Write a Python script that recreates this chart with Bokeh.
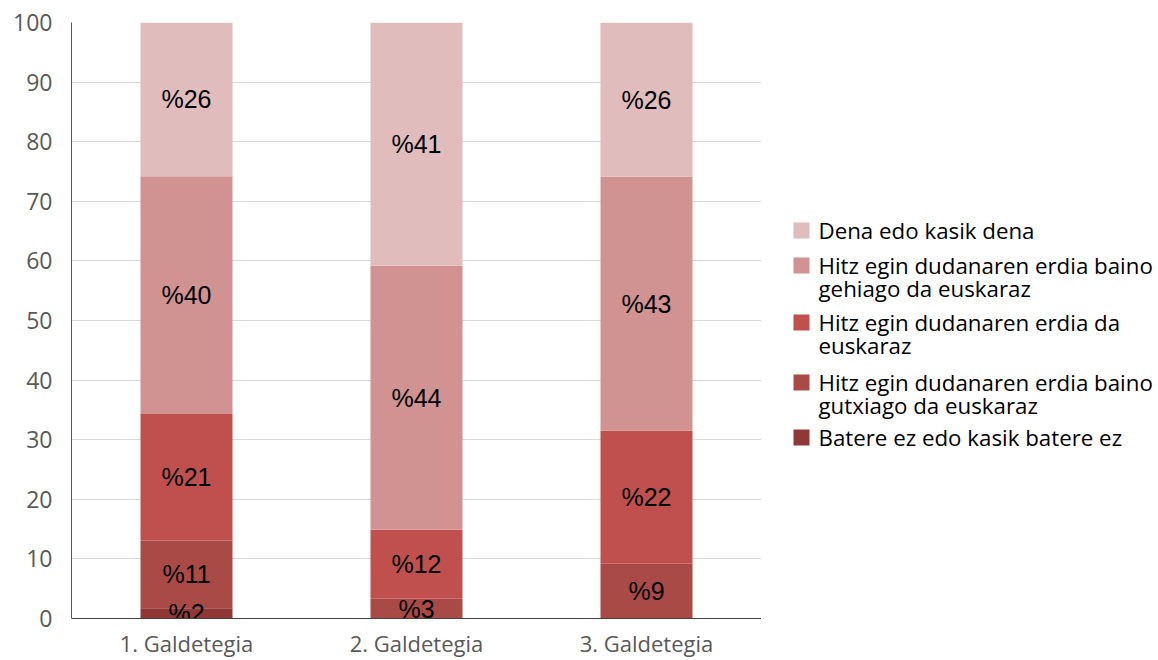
from bokeh.plotting import figure
from bokeh.layouts import row
from bokeh.models import ColumnDataSource, Range1d, FactorRange, FixedTicker
from bokeh.core.properties import value
from bokeh.embed import file_html
from bokeh.resources import INLINE

categories = ["1. Galdetegia", "2. Galdetegia", "3. Galdetegia"]
series_names = [
    "Batere ez edo kasik batere ez",
    "Hitz egin dudanaren erdia baino\ngutxiago da euskaraz",
    "Hitz egin dudanaren erdia da\neuskaraz",
    "Hitz egin dudanaren erdia baino\ngehiago da euskaraz",
    "Dena edo kasik dena",
]
batere = [1.7, 0.0, 0.0]
gutxiago = [11.4, 3.3, 9.2]
erdia = [21.2, 11.6, 22.3]
gehiago = [39.9, 44.3, 42.6]
dena = [25.8, 40.8, 25.9]
colors = ["#8f3835", "#a94a47", "#c0504d", "#d19391", "#e0bcbc"]
y_ticks = [0, 10, 20, 30, 40, 50, 60, 70, 80, 90, 100]

series = [batere, gutxiago, erdia, gehiago, dena]
keys = ["s0", "s1", "s2", "s3", "s4"]
data = {"cat": categories}
for k, s in zip(keys, series):
    data[k] = s
source = ColumnDataSource(data)

H = 660
TOP, BOTTOM = 22, 42
p = figure(x_range=FactorRange(*categories, range_padding=0), y_range=Range1d(0, 100),
           width=761, height=H, output_backend="svg", toolbar_location=None,
           min_border_left=71, min_border_top=TOP, min_border_bottom=BOTTOM, min_border_right=0)
p.outline_line_color = None
p.background_fill_color = "white"

renderers = p.vbar_stack(keys, x="cat", width=0.4, source=source, color=colors, line_color=None)

# data labels
lx, ly, lt = [], [], []
for i, c in enumerate(categories):
    base = 0.0
    for s in series:
        v = s[i]
        if v > 0:
            lx.append(c)
            ly.append(base + v / 2)
            lt.append("%" + str(round(v)))
        base += v
p.text(x=lx, y=ly, text=lt, text_align="center", text_baseline="middle",
       text_font=value("Liberation Sans"), text_font_size="25px", text_color="black")

# axes
p.yaxis.ticker = FixedTicker(ticks=y_ticks)
p.yaxis.major_tick_line_color = None
p.yaxis.major_tick_out = 0
p.yaxis.major_tick_in = 0
p.yaxis.minor_tick_line_color = None
p.yaxis.axis_line_color = "#595959"
p.yaxis.major_label_text_font = "Open Sans"
p.yaxis.major_label_text_font_size = "23px"
p.yaxis.major_label_text_color = "#595959"
p.yaxis.major_label_standoff = 19
p.xaxis.major_tick_line_color = None
p.xaxis.major_tick_out = 0
p.xaxis.major_tick_in = 0
p.xaxis.axis_line_color = "#404040"
p.xaxis.major_label_text_font = "Open Sans"
p.xaxis.major_label_text_font_size = "22px"
p.xaxis.major_label_text_color = "#595959"
p.xaxis.major_label_standoff = 9
p.xgrid.grid_line_color = None
p.ygrid.grid_line_color = "#d9d9d9"

# legend panel, drawn in page-pixel coordinates (y downwards)
LW = 397
lg = figure(width=LW, height=H, x_range=Range1d(761, 761 + LW), y_range=Range1d(H - BOTTOM, TOP),
            output_backend="svg", toolbar_location=None,
            min_border_left=0, min_border_right=0, min_border_top=TOP, min_border_bottom=BOTTOM)
lg.axis.visible = False
lg.grid.grid_line_color = None
lg.outline_line_color = None

row_y = [437, 382, 322, 265, 230]  # first-line centre of each item (same order as series_names)
line_gap = 23
sq_x, sq_y, sq_c = [], [], []
tx, ty, tt = [], [], []
for name, y0, c in zip(series_names, row_y, colors):
    sq_x.append(801)
    sq_y.append(y0)
    sq_c.append(c)
    for j, line in enumerate(name.split("\n")):
        tx.append(818)
        ty.append(y0 + j * line_gap)
        tt.append(line)
lg.rect(x=sq_x, y=sq_y, width=16, height=16, width_units="screen", height_units="screen",
        fill_color=sq_c, line_color=None)
lg.text(x=tx, y=ty, text=tt, text_align="left", text_baseline="middle",
        text_font=value("Open Sans"), text_font_size="22.3px", text_color="black")

layout = row(p, lg, spacing=0)
open("out.html", "w").write(file_html(layout, INLINE))
